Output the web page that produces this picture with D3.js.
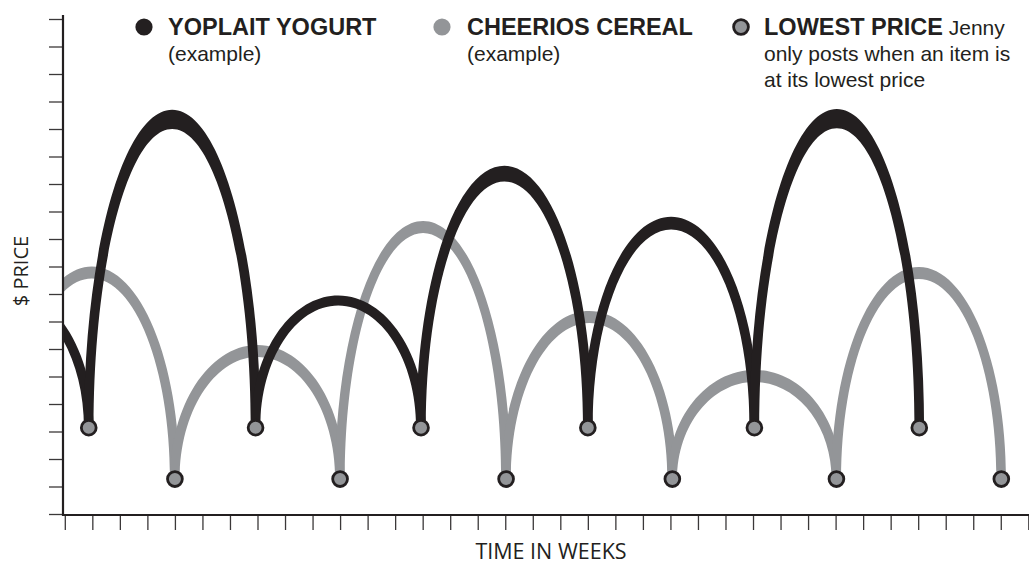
<!DOCTYPE html>
<html>
<head>
<meta charset="utf-8">
<script src="https://cdn.jsdelivr.net/npm/d3@7"></script>
<style>
  body { margin: 0; background: #fff; }
  svg { display: block; }
</style>
</head>
<body>
<div id="chart"></div>
<script>
// Data (weeks along x, price in tick units along y)
const weekTicks = d3.range(0, 36)
const priceTicks = d3.range(0, 19)

// yogurt: lowest-price weeks and the peak price between two lows
const yogurtLowWeeks = [-5.15, 0.87, 6.93, 12.94, 19.0, 25.05, 31.04]
const yogurtLowPrice = [3.14, 3.14, 3.14, 3.14, 3.14, 3.14, 3.14]
const yogurtPeakPrice = [8.0, 14.35, 7.76, 12.38, 10.58, 14.38]

// cheerios
const cheeriosLowWeeks = [-2.04, 4.0, 10.0, 16.03, 22.07, 28.03, 34.02]
const cheeriosLowPrice = [1.27, 1.27, 1.27, 1.27, 1.27, 1.27, 1.27]
const cheeriosPeakPrice = [8.78, 5.93, 10.44, 7.16, 5.02, 8.76]

const ink = '#231f20'
const grey = '#939598'

function draw() {
    const dimension = {
        width: 1029,
        height: 565,
        left: 63,
        right: 1029,
        top: 19,
        bottom: 514
    }

    const svg = d3.select('#chart')
        .append('svg')
        .attr('width', dimension.width)
        .attr('height', dimension.height)

    // Scales
    const xScale = d3.scaleLinear()
        .domain([0, 35])
        .range([64.8, 1028.3])

    const yScale = d3.scaleLinear()
        .domain([0, 18])
        .range([dimension.bottom, dimension.top])

    svg.append('clipPath')
        .attr('id', 'plot')
        .append('rect')
        .attr('x', dimension.left)
        .attr('y', 0)
        .attr('width', dimension.right - dimension.left)
        .attr('height', dimension.bottom)

    // arch: two quarter ellipses from one low to the next, filled as a crescent
    const k = 0.5523
    function arch(p, xa, xb, yb, yp) {
        const xm = (xa + xb) / 2
        const h = yb - yp
        p.bezierCurveTo(xa, yb - k * h, xm - k * (xm - xa), yp, xm, yp)
        p.bezierCurveTo(xm + k * (xb - xm), yp, xb, yb - k * h, xb, yb)
    }
    function crescent(x0, x1, yb, yp, thick, half) {
        const p = d3.path()
        p.moveTo(x0 - half, yb)
        arch(p, x0 - half, x1 + half, yb, yp - thick / 2)
        p.lineTo(x1 - half, yb)
        // inner edge, walked backwards
        const xm = (x0 + x1) / 2
        const xa = x1 - half, xb = x0 + half
        const yi = yp + thick / 2
        const h = yb - yi
        p.bezierCurveTo(xa, yb - k * h, xm + k * (xa - xm), yi, xm, yi)
        p.bezierCurveTo(xm - k * (xm - xb), yi, xb, yb - k * h, xb, yb)
        p.closePath()
        return p.toString()
    }

    function arcs(lowWeeks, lowPrice, peakPrice) {
        return peakPrice.map((v, i) => ({
            x0: xScale(lowWeeks[i]),
            x1: xScale(lowWeeks[i + 1]),
            yb: yScale(lowPrice[i]),
            yp: yScale(v)
        }))
    }

    const plot = svg.append('g').attr('clip-path', 'url(#plot)')

    plot.append('g')
        .selectAll('path')
        .data(arcs(cheeriosLowWeeks, cheeriosLowPrice, cheeriosPeakPrice))
        .join('path')
        .attr('d', d => crescent(d.x0, d.x1, d.yb, d.yp, 12, 4.8))
        .attr('fill', grey)

    plot.append('g')
        .selectAll('path')
        .data(arcs(yogurtLowWeeks, yogurtLowPrice, yogurtPeakPrice))
        .join('path')
        .attr('d', d => crescent(d.x0, d.x1, d.yb, d.yp, Math.max(10, 0.062 * (d.yb - d.yp)), 4.8))
        .attr('fill', ink)

    // lowest price dots
    const lows = yogurtLowWeeks.map((w, i) => [w, yogurtLowPrice[i]])
        .concat(cheeriosLowWeeks.map((w, i) => [w, cheeriosLowPrice[i]]))
        .filter(d => d[0] >= 0)

    plot.append('g')
        .selectAll('circle')
        .data(lows)
        .join('circle')
        .attr('cx', d => xScale(d[0]))
        .attr('cy', d => yScale(d[1]))
        .attr('r', 7.4)
        .attr('fill', grey)
        .attr('stroke', ink)
        .attr('stroke-width', 2.8)

    // Axes
    const yAxis = d3.axisLeft(yScale)
        .tickValues(priceTicks)
        .tickSize(14)
        .tickFormat('')

    svg.append('g')
        .attr('transform', `translate(${dimension.left}, 0)`)
        .call(yAxis)
        .call(g => g.select('.domain').remove())
        .call(g => g.selectAll('.tick line').attr('stroke', '#3b3839').attr('stroke-width', 1.3))

    const xAxis = d3.axisBottom(xScale)
        .tickValues(weekTicks)
        .tickSize(15)
        .tickFormat('')

    svg.append('g')
        .attr('transform', `translate(0, ${dimension.bottom + 1})`)
        .call(xAxis)
        .call(g => g.select('.domain').remove())
        .call(g => g.selectAll('.tick line').attr('stroke', '#3b3839').attr('stroke-width', 1.3))

    svg.append('path')
        .attr('d', `M${dimension.left},15V${dimension.bottom + 1}H${dimension.right}`)
        .attr('fill', 'none')
        .attr('stroke', ink)
        .attr('stroke-width', 2.2)

    svg.append('text')
        .attr('transform', `translate(28, 271) rotate(-90)`)
        .attr('text-anchor', 'middle')
        .attr('font-family', 'Open Sans, sans-serif')
        .attr('font-size', 20)
        .attr('fill', ink)
        .text('$ PRICE')

    svg.append('text')
        .attr('x', 551)
        .attr('y', 559)
        .attr('text-anchor', 'middle')
        .attr('font-family', 'Open Sans, sans-serif')
        .attr('font-size', 21.5)
        .attr('fill', ink)
        .text('TIME IN WEEKS')

    // Legend
    const legend = svg.append('g')
        .attr('font-family', 'Liberation Sans, Arial, sans-serif')
        .attr('fill', ink)

    legend.append('circle').attr('cx', 144).attr('cy', 27).attr('r', 8.6).attr('fill', ink)
    legend.append('text').attr('x', 168).attr('y', 35).attr('font-size', 23.5).attr('font-weight', 'bold').text('YOPLAIT YOGURT')
    legend.append('text').attr('x', 168).attr('y', 61).attr('font-size', 21).text('(example)')

    legend.append('circle').attr('cx', 442).attr('cy', 27).attr('r', 8.6).attr('fill', grey)
    legend.append('text').attr('x', 467).attr('y', 35).attr('font-size', 23.5).attr('font-weight', 'bold').text('CHEERIOS CEREAL')
    legend.append('text').attr('x', 467).attr('y', 61).attr('font-size', 21).text('(example)')

    legend.append('circle').attr('cx', 741).attr('cy', 27).attr('r', 7.4)
        .attr('fill', grey).attr('stroke', ink).attr('stroke-width', 2.8)
    const lp = legend.append('text').attr('x', 764).attr('y', 35).attr('font-size', 23.5)
    lp.append('tspan').attr('font-weight', 'bold').text('LOWEST PRICE')
    lp.append('tspan').attr('font-size', 21).text(' Jenny')
    legend.append('text').attr('x', 764).attr('y', 61).attr('font-size', 21).text('only posts when an item is')
    legend.append('text').attr('x', 764).attr('y', 87).attr('font-size', 21).text('at its lowest price')
}

draw()
</script>
</body>
</html>
